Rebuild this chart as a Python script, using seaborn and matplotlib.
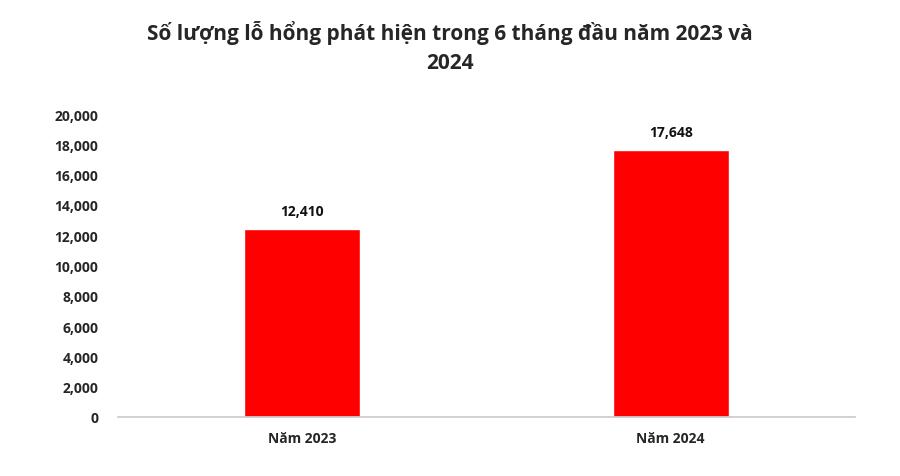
import matplotlib
matplotlib.use("Agg")
import matplotlib.pyplot as plt
import seaborn as sns
import pandas as pd

# Data
categories = ['Năm 2023', 'Năm 2024']
values = [12410, 17648]
df = pd.DataFrame({'year': categories, 'count': values})

sns.set_theme(style="white")
plt.rcParams['font.family'] = ['Open Sans', 'DejaVu Sans']

fig = plt.figure(figsize=(9, 4.77), dpi=100)
ax = fig.add_axes([0.131, 0.1237, 0.819, 0.635])

sns.barplot(x='year', y='count', data=df, color='#FF0000', saturation=1, width=0.314, ax=ax)

for i, v in enumerate(values):
    ax.text(i, v + 700, f'{v:,}', ha='center', va='bottom', fontsize=10, fontweight='bold', color='#111111')

ax.set_xlim(-0.5, 1.5)
ax.set_ylim(0, 20000)
ax.set_yticks(range(0, 20001, 2000))
ax.set_yticklabels([f'{t:,}' for t in range(0, 20001, 2000)], fontsize=10, fontweight='bold')
ax.tick_params(axis='x', labelsize=10, pad=10)
for lbl in ax.get_xticklabels():
    lbl.set_fontweight('bold')
ax.set_xlabel('')
ax.set_ylabel('')
for s in ['top', 'right', 'left']:
    ax.spines[s].set_visible(False)
ax.spines['bottom'].set_color('#cccccc')
ax.tick_params(axis='y', length=0, pad=14)
ax.tick_params(axis='x', length=0)

fig.text(0.5, 0.955, 'Số lượng lỗ hổng phát hiện trong 6 tháng đầu năm 2023 và\n2024',
         ha='center', va='top', fontsize=15, fontweight='bold', linespacing=1.5)

fig.savefig('out.png', dpi=100)
